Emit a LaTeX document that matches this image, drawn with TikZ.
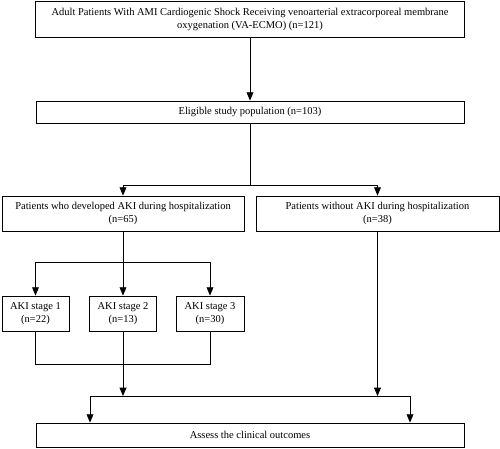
\documentclass[tikz,border=0pt]{standalone}
\usepackage{fontspec}
\setmainfont{Liberation Serif}
\usepackage{tikz}
\usetikzlibrary{arrows}

\tikzset{
	flowbox/.style={draw,line width=0.9pt,align=center,inner sep=1pt,font=\fontsize{10.5}{13}\selectfont},
	link/.style={line width=0.9pt}
}

\begin{document}
\begin{tikzpicture}[x=1pt,y=-1pt,>=triangle 45]
				\useasboundingbox (0,0) rectangle (500,448);

				\node[flowbox,minimum width=429pt,minimum height=36pt] (cohort) at (250,19)
					{Adult Patients With AMI Cardiogenic Shock Receiving venoarterial extracorporeal membrane\\oxygenation (VA-ECMO) (n=121)};
				\node[flowbox,minimum width=428pt,minimum height=22pt] (eligible) at (250,112)
					{Eligible study population (n=103)};
				\node[flowbox,minimum width=242pt,minimum height=35pt] (akiyes) at (123,213.5)
					{Patients who developed AKI during hospitalization\\(n=65)};
				\node[flowbox,minimum width=243pt,minimum height=35pt] (akino) at (377.5,213.5)
					{Patients without AKI during hospitalization\\(n=38)};
				\node[flowbox,minimum width=67pt,minimum height=35pt] (stage1) at (35.5,313.5)
					{AKI stage 1\\(n=22)};
				\node[flowbox,minimum width=67pt,minimum height=35pt] (stage2) at (123,313.5)
					{AKI stage 2\\(n=13)};
				\node[flowbox,minimum width=68pt,minimum height=35pt] (stage3) at (210,313.5)
					{AKI stage 3\\(n=30)};
				\node[flowbox,minimum width=428pt,minimum height=24pt] (outcome) at (250,435)
					{Assess the clinical outcomes};

				\coordinate (split) at (250,185);
				\coordinate (stagesplit) at (123,262);
				\coordinate (stagejoin) at (123,364);
				\coordinate (akijoin) at (123,396);
				\coordinate (nojoin) at (377.5,396);
				\coordinate (outleft) at (90,396);
				\coordinate (outright) at (410,396);

				\draw[link,->] (cohort) -- (eligible);
				\draw[link] (eligible) -- (split);
				\draw[link,->] (split) -| (akiyes.north);
				\draw[link,->] (split) -| (akino.north);

				\draw[link] (akiyes) -- (stagesplit);
				\draw[link,->] (stagesplit) -| (stage1.north);
				\draw[link,->] (stagesplit) -- (stage2);
				\draw[link,->] (stagesplit) -| (stage3.north);

				\draw[link] (stage1.south) |- (stagejoin) -| (stage3.south);
				\draw[link,->] (stage2) -- (akijoin);
				\draw[link,->] (akino) -- (nojoin);

				\draw[link] (outleft) -- (outright);
				\draw[link,->] (outleft) -- (outleft |- outcome.north);
				\draw[link,->] (outright) -- (outright |- outcome.north);

			\end{tikzpicture}
\end{document}
